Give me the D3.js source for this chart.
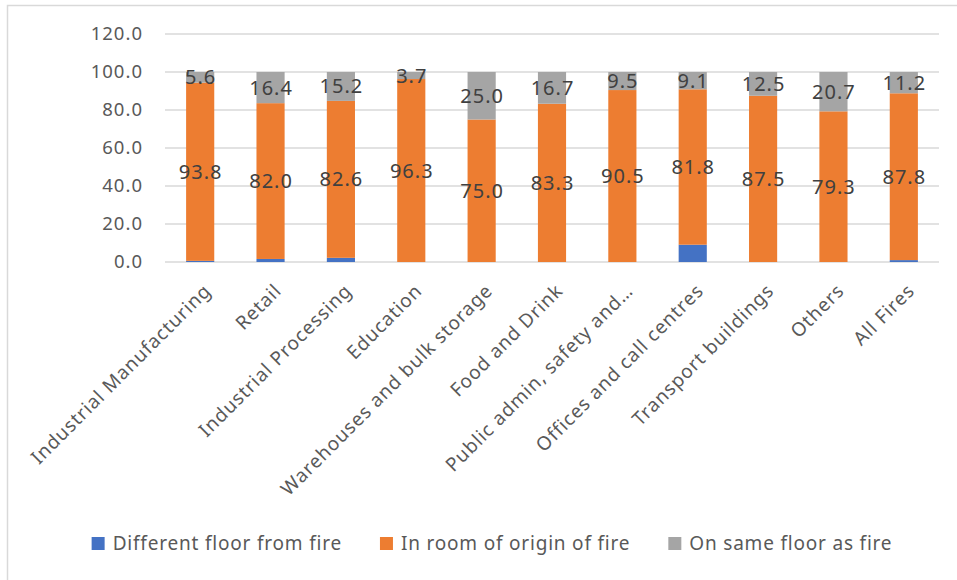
<!DOCTYPE html>
<html>
<head>
<meta charset="utf-8">
<script src="https://cdn.jsdelivr.net/npm/d3@7"></script>
<style>
  body { margin: 0; background: #fff; }
  text { font-family: "Noto Sans", "Open Sans", sans-serif; }
</style>
</head>
<body>
<div class="main"></div>
<script>
const WIDTH = 957;
const HEIGHT = 580;

const categories = [
    "Industrial Manufacturing", "Retail", "Industrial Processing", "Education",
    "Warehouses and bulk storage", "Food and Drink", "Public admin, safety and…",
    "Offices and call centres", "Transport buildings", "Others", "All Fires"
];
const differentFloor = [0.6, 1.6, 2.2, 0, 0, 0, 0, 9.1, 0, 0, 1.0];
const roomOfOrigin = [93.8, 82.0, 82.6, 96.3, 75.0, 83.3, 90.5, 81.8, 87.5, 79.3, 87.8];
const sameFloor = [5.6, 16.4, 15.2, 3.7, 25.0, 16.7, 9.5, 9.1, 12.5, 20.7, 11.2];
const seriesNames = ["Different floor from fire", "In room of origin of fire", "On same floor as fire"];
const yTicks = [0, 20, 40, 60, 80, 100, 120];

const COLORS = ["#4472C4", "#ED7D31", "#A5A5A5"];
const PLOT_LEFT = 165;
const PLOT_RIGHT = 939;

var svg = d3.select(".main")
    .append("svg")
        .attr("width", WIDTH)
        .attr("height", HEIGHT);

// chart border
svg.append("rect")
    .attr("x", 7.5).attr("y", 5.5)
    .attr("width", WIDTH + 10).attr("height", HEIGHT + 10)
    .attr("fill", "none")
    .attr("stroke", "#d9d9d9")
    .attr("stroke-width", 1.5);

var x = d3.scaleBand()
    .domain(categories)
    .range([PLOT_LEFT, PLOT_RIGHT])
    .paddingInner(0.6)
    .paddingOuter(0.3);

var y = d3.scaleLinear()
    .domain([0, 120])
    .range([262, 34]);

// gridlines
svg.append("g")
    .selectAll("line")
    .data(yTicks)
    .join("line")
        .attr("x1", PLOT_LEFT)
        .attr("x2", PLOT_RIGHT)
        .attr("y1", d => y(d))
        .attr("y2", d => y(d))
        .attr("stroke", "#d9d9d9")
        .attr("stroke-width", 1.5);

// y labels
svg.append("g")
    .selectAll("text")
    .data(yTicks)
    .join("text")
        .attr("x", 143)
        .attr("y", d => y(d))
        .attr("dy", "0.35em")
        .attr("text-anchor", "end")
        .attr("font-size", 18.5)
        .attr("letter-spacing", 1)
        .attr("fill", "#595959")
        .text(d => d3.format(".1f")(d));

var rows = categories.map((c, i) => ({
    cat: c,
    vals: [differentFloor[i], roomOfOrigin[i], sameFloor[i]]
}));

var stacked = d3.stack()
    .keys([0, 1, 2])
    .value((d, k) => d.vals[k])(rows);

var layers = svg.append("g")
    .selectAll("g")
    .data(stacked)
    .join("g")
        .attr("fill", (d, i) => COLORS[i]);

layers.selectAll("rect")
    .data(d => d)
    .join("rect")
        .attr("x", d => x(d.data.cat))
        .attr("width", x.bandwidth())
        .attr("y", d => y(d[1]))
        .attr("height", d => y(d[0]) - y(d[1]));

// data labels for orange and gray series
svg.append("g")
    .selectAll("g")
    .data(stacked.slice(1))
    .join("g")
    .selectAll("text")
    .data(d => d)
    .join("text")
        .attr("x", d => x(d.data.cat) + x.bandwidth() / 2 + 0.5)
        .attr("y", d => y((d[0] + d[1]) / 2))
        .attr("dy", "0.35em")
        .attr("text-anchor", "middle")
        .attr("font-size", 20)
        .attr("letter-spacing", 1)
        .attr("fill", "#404040")
        .text(d => d3.format(".1f")(d[1] - d[0]));

// category labels, rotated
svg.append("g")
    .selectAll("text")
    .data(categories)
    .join("text")
        .attr("transform", d => `translate(${x(d) + x.bandwidth() / 2 + 12},${292}) rotate(-45)`)
        .attr("text-anchor", "end")
        .attr("font-size", 19)
        .attr("letter-spacing", 0.9)
        .attr("fill", "#595959")
        .text(d => d);

// legend
var legend = svg.append("g");
var lx = 0;
seriesNames.forEach((name, i) => {
    var item = legend.append("g").attr("transform", `translate(${lx},0)`);
    item.append("rect")
        .attr("x", 0).attr("y", -6)
        .attr("width", 13).attr("height", 13)
        .attr("fill", COLORS[i]);
    var t = item.append("text")
        .attr("x", 21)
        .attr("dy", "0.35em")
        .attr("font-size", 19)
        .attr("letter-spacing", 0.8)
        .attr("fill", "#595959")
        .text(name);
    lx += 21 + t.node().getComputedTextLength() + 38;
});
var legendWidth = lx - 38;
legend.attr("transform", `translate(${492 - legendWidth / 2},543)`);
</script>
</body>
</html>
